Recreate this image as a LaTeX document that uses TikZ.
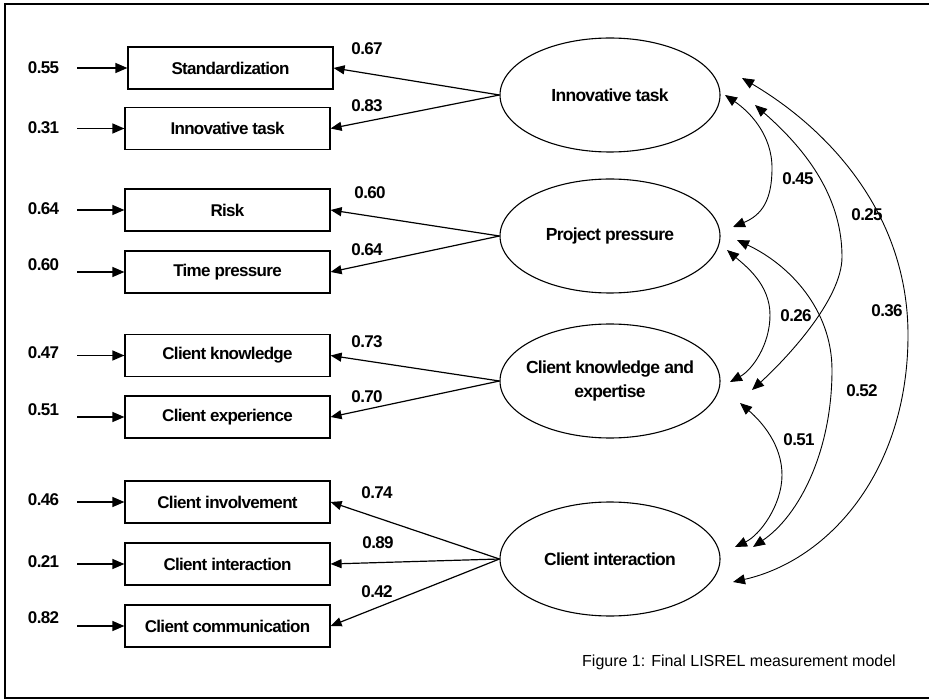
\documentclass[tikz,border=0pt]{standalone}
\usepackage{fontspec}
\setmainfont{Liberation Sans}
\newfontfamily\lblfont{Liberation Sans}[LetterSpace=-4]
\usetikzlibrary{arrows.meta,shapes.geometric}
\begin{document}
\begin{tikzpicture}[x=1pt,y=-1pt,
  obs/.style={draw,line width=1.2pt,minimum width=205pt,minimum height=42pt,inner sep=0pt,font=\lblfont\bfseries\fontsize{17}{20}\selectfont},
  lat/.style={draw,ellipse,line width=1.1pt,minimum width=220pt,minimum height=114pt,inner sep=0pt},
  lattext/.style={font=\lblfont\bfseries\fontsize{17.5}{24}\selectfont,align=center,inner sep=0pt},
  num/.style={font=\lblfont\bfseries\fontsize{17}{20}\selectfont,inner sep=0pt},
  load/.style={line width=1.2pt,-{Triangle[length=11pt,width=9pt]}},
  err/.style={line width=1.3pt,-{Triangle[length=12pt,width=10pt]}},
  cov/.style={line width=0.9pt,{Triangle[length=12pt,width=10pt]}-{Triangle[length=12pt,width=10pt]}}]
\clip (0,0) rectangle (929,700);
\draw[line width=2pt] (935,4.5) -- (5,4.5) -- (5,698) -- (935,698);

% observed variables
\node[obs] (b1) at (230.5,68) {Standardization};
\node[obs] (b2) at (227.5,128.5) {Innovative task};
\node[obs] (b3) at (227.5,210) {Risk};
\node[obs] (b4) at (227.5,272) {Time pressure};
\node[obs] (b5) at (227.5,355.5) {Client knowledge};
\node[obs] (b6) at (227.5,417) {Client experience};
\node[obs] (b7) at (227.5,502) {Client involvement};
\node[obs] (b8) at (227.5,564) {Client interaction};
\node[obs] (b9) at (227.5,626) {Client communication};

% latent variables
\node[lat] (IT) at (610,95) {};
\node[lat] (PP) at (610,236) {};
\node[lat] (CK) at (610,381) {};
\node[lat] (CI) at (610,559) {};
\node[lattext] (ITt) at (IT) {Innovative task};
\node[lattext] (PPt) at (PP) {Project pressure};
\node[lattext] (CKt) at (CK) {Client knowledge and\\expertise};
\node[lattext] (CIt) at (CI) {Client interaction};

% error terms
\foreach \i/\y/\v/\ly in {1/68/0.55/68,2/128.5/0.31/128,3/210/0.64/209,4/272/0.60/265,5/355.5/0.47/353,6/417/0.51/410,7/502/0.46/500,8/564/0.21/562,9/626/0.82/618}{
  \coordinate (e\i) at (77,\y);
  \node[num] (ev\i) at (43.5,\ly) {\v};
  \draw[err] (e\i) -- (b\i.west);
}

% loadings
\draw[load] (IT.west) -- (b1.east);
\draw[load] (IT.west) -- (b2.east);
\draw[load] (PP.west) -- (b3.east);
\draw[load] (PP.west) -- (b4.east);
\draw[load] (CK.west) -- (b5.east);
\draw[load] (CK.west) -- (b6.east);
\draw[load] (CI.west) -- (b7.east);
\draw[load] (CI.west) -- (b8.east);
\draw[load] (CI.west) -- (b9.east);
\node[num] (l1) at (367,49) {0.67};
\node[num] (l2) at (367,106) {0.83};
\node[num] (l3) at (370,193) {0.60};
\node[num] (l4) at (367,250) {0.64};
\node[num] (l5) at (367,342) {0.73};
\node[num] (l6) at (367,397) {0.70};
\node[num] (l7) at (377,493) {0.74};
\node[num] (l8) at (378,543) {0.89};
\node[num] (l9) at (377,592) {0.42};

% covariances
\coordinate (c45a) at (725,95);  \coordinate (c45b) at (733,227);
\coordinate (c25a) at (755,105); \coordinate (c25b) at (752,390);
\coordinate (c36a) at (742,78);  \coordinate (c36b) at (733,582);
\coordinate (c26a) at (727,250); \coordinate (c26b) at (730,382);
\coordinate (c52a) at (737,240); \coordinate (c52b) at (753,547);
\coordinate (c51a) at (740,403); \coordinate (c51b) at (735,547);
\draw[cov] (c45a) .. controls (750,112) and (772,135) .. (772,168) .. controls (772,200) and (762,215) .. (c45b);
\draw[cov] (c25a) .. controls (810,153) and (842,200) .. (842,257) .. controls (842,300) and (785,360) .. (c25b);
\draw[cov] (c36a) .. controls (830,130) and (908,215) .. (908,335) .. controls (908,470) and (830,560) .. (c36b);
\draw[cov] (c26a) .. controls (747,267) and (770,285) .. (770,315) .. controls (770,345) and (752,370) .. (c26b);
\draw[cov] (c52a) .. controls (790,265) and (832,310) .. (832,370) .. controls (832,450) and (800,515) .. (c52b);
\draw[cov] (c51a) .. controls (762,422) and (782,445) .. (782,475) .. controls (782,505) and (760,535) .. (c51b);
\node[num] (k45) at (798,179) {0.45};
\node[num] (k25) at (867,215) {0.25};
\node[num] (k26) at (796,316) {0.26};
\node[num] (k36) at (887,311) {0.36};
\node[num] (k52) at (862,391) {0.52};
\node[num] (k51) at (799,440) {0.51};

% caption
\node[anchor=base west,inner sep=0pt,font=\fontsize{16}{19}\selectfont] (cap) at (582,666) {Figure 1: Final LISREL measurement model};
\end{tikzpicture}
\end{document}
